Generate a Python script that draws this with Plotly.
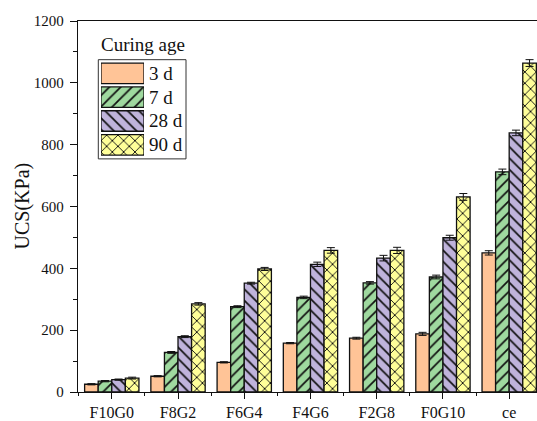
import plotly.graph_objects as go

# Mix designs and curing ages
categories = ["F10G0", "F8G2", "F6G4", "F4G6", "F2G8", "F0G10", "ce"]
ages = ["3 d", "7 d", "28 d", "90 d"]

# Unconfined compressive strength (kPa)
ucs_3d = [25, 51, 96, 158, 174, 188, 450]
ucs_7d = [35, 128, 276, 306, 353, 372, 712]
ucs_28d = [40, 179, 352, 413, 433, 499, 838]
ucs_90d = [45, 285, 398, 458, 458, 631, 1064]

# Standard deviations
err_3d = [2, 2, 2, 2, 3, 5, 7]
err_7d = [2, 3, 3, 4, 4, 6, 9]
err_28d = [2, 3, 3, 7, 9, 8, 9]
err_90d = [3, 4, 5, 9, 10, 11, 11]

y_ticks = [0, 200, 400, 600, 800, 1000, 1200]

series = [ucs_3d, ucs_7d, ucs_28d, ucs_90d]
errors = [err_3d, err_7d, err_28d, err_90d]
fills = ["#FFC497", "#9FD99F", "#BFB3DB", "#FFFF99"]
shapes = ["", "/", "\\", "x"]

W, H = 537, 421
L, R, T, B = 78, 0, 21, 26
PW, PH = W - L - R, H - T - B


def px(x):
    return (x - L) / PW


def py(y):
    return (H - B - y) / PH


FONT = "Liberation Serif"


def bar_marker(col, shp):
    return dict(color=col, line=dict(color="#111111", width=1.3),
                pattern=dict(shape=shp, fgcolor="#111111", bgcolor=col,
                             fgopacity=1, size=8, solidity=0.22,
                             fillmode="replace"))


fig = go.Figure()
xs = list(range(len(categories)))

for name, vals, errs, col, shp in zip(ages, series, errors, fills, shapes):
    fig.add_trace(go.Bar(
        x=xs, y=vals, name=name,
        marker=bar_marker(col, shp),
        error_y=dict(type="data", array=errs, color="#111111",
                     thickness=1, width=4),
        showlegend=False,
    ))

# Legend swatches drawn as short horizontal bars on an inset axis
for i, (name, col, shp) in enumerate(zip(ages, fills, shapes)):
    fig.add_trace(go.Bar(
        x=[1], y=[i], orientation="h", width=0.86,
        xaxis="x2", yaxis="y2", showlegend=False, hoverinfo="skip",
        marker=bar_marker(col, shp),
    ))

row_top, row_bot = 61.8, 157.8
fig.update_layout(
    width=W, height=H,
    margin=dict(l=L, r=R, t=T, b=B),
    paper_bgcolor="white", plot_bgcolor="white",
    barmode="group", bargap=0.18, bargroupgap=0,
    font=dict(family=FONT, size=15, color="#111111"),
    xaxis=dict(
        range=[-0.51, 6.42], tickvals=xs, ticktext=categories,
        showline=True, linecolor="#111111", linewidth=1.3, mirror=True,
        ticks="outside", ticklen=6, tickwidth=1.2, tickcolor="#111111",
        minor=dict(tick0=0.5, dtick=1, ticks="outside", ticklen=3,
                   tickwidth=1.2, tickcolor="#111111"),
        showgrid=False, zeroline=False,
        tickfont=dict(family=FONT, size=16),
    ),
    yaxis=dict(
        range=[0, 1200], tickvals=y_ticks,
        showline=True, linecolor="#111111", linewidth=1.3,
        ticks="outside", ticklen=7, tickwidth=1.2, tickcolor="#111111",
        minor=dict(dtick=100, ticks="outside", ticklen=4, tickwidth=1.2,
                   tickcolor="#111111"),
        showgrid=False, zeroline=False,
        tickfont=dict(family=FONT, size=15), ticklabelstandoff=3,
    ),
    xaxis2=dict(domain=[px(101), px(144)], range=[0, 1], anchor="y2",
                visible=False, fixedrange=True),
    yaxis2=dict(domain=[py(row_bot), py(row_top)], range=[3.5, -0.5],
                anchor="x2", visible=False, fixedrange=True),
)

annotations = [
    dict(text="UCS(KPa)", x=px(22), y=0.5, xref="paper", yref="paper",
         textangle=-90, showarrow=False, xanchor="center", yanchor="middle",
         font=dict(family=FONT, size=20)),
    dict(text="Curing age", x=px(99), y=py(45), xref="paper", yref="paper",
         showarrow=False, xanchor="left", yanchor="middle",
         font=dict(family=FONT, size=19)),
]
pitch = (row_bot - row_top) / 4
for i, name in enumerate(ages):
    yc = row_top + pitch * (i + 0.5)
    annotations.append(dict(
        text=name, x=px(147), y=py(yc), xref="paper", yref="paper",
        showarrow=False, xanchor="left", yanchor="middle",
        font=dict(family=FONT, size=19)))
fig.update_layout(annotations=annotations)

fig.add_shape(type="rect", xref="paper", yref="paper",
              x0=px(98.3), x1=px(186), y0=py(160), y1=py(60),
              line=dict(color="#333333", width=1), fillcolor="rgba(0,0,0,0)")

fig.write_html("out.html")
